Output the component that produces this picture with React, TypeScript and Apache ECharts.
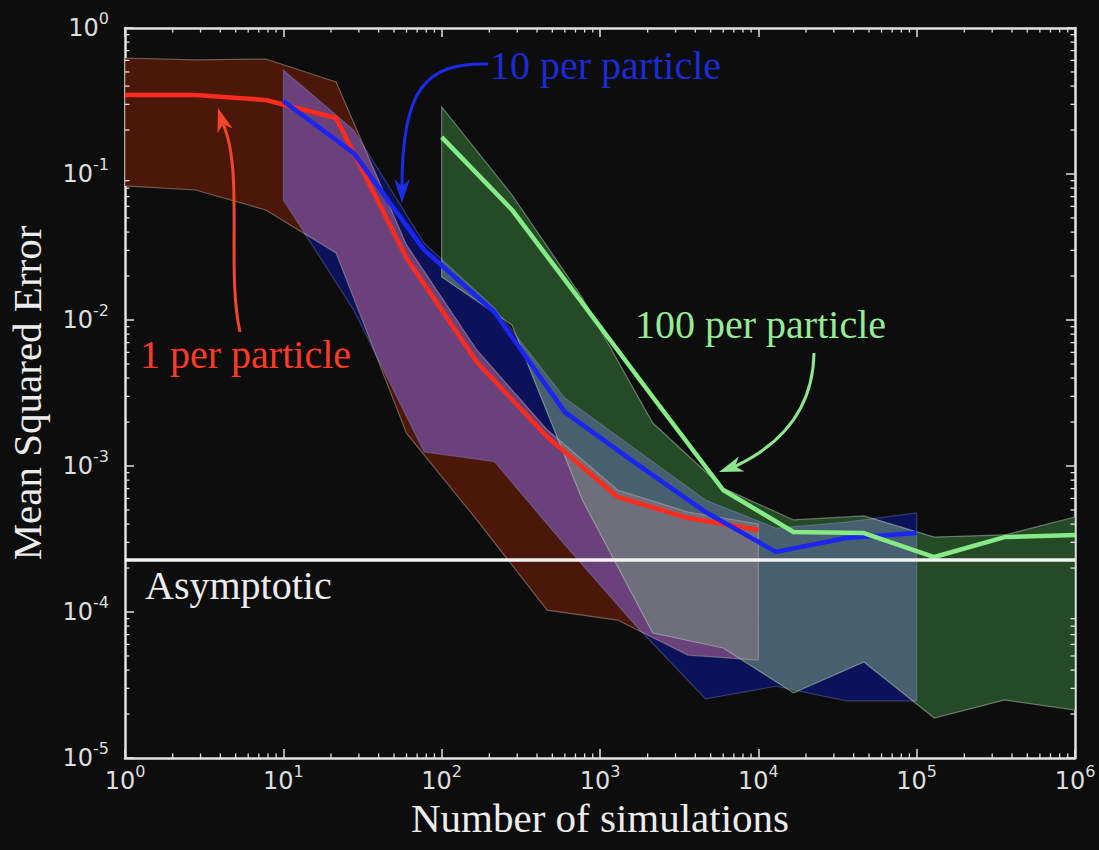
import React, { useEffect, useRef } from "react";
import * as echarts from "echarts";

// Number of simulations at which each estimator was evaluated
const simsOnePer = [1, 2.783, 7.743, 21.54, 59.95, 166.8, 464.2, 1292, 3594, 10000];
const simsTenPer = [10, 27.83, 77.43, 215.4, 599.5, 1668, 4642, 12915, 35938, 100000];
const simsHundredPer = [100, 278.3, 774.3, 2154, 5995, 16681, 46416, 129155, 359381, 1000000];

// 1 per particle: mean squared error and its spread
const mseOnePer = [0.348, 0.348, 0.321, 0.242, 0.0266, 5.16e-3, 1.58e-3, 6.14e-4, 4.4e-4, 3.64e-4];
const lowOnePer = [0.0828, 0.0777, 0.0567, 0.0288, 1.68e-3, 4.27e-4, 1.03e-4, 8.81e-5, 5.07e-5, 4.69e-5];
const highOnePer = [0.623, 0.604, 0.613, 0.427, 0.0327, 6.23e-3, 1.77e-3, 6.85e-4, 4.84e-4, 4.01e-4];

// 10 per particle
const mseTenPer = [0.316, 0.139, 0.0302, 0.01134, 2.34e-3, 1.05e-3, 4.84e-4, 2.58e-4, 3.21e-4, 3.47e-4];
const lowTenPer = [0.0664, 0.0117, 1.25e-3, 1.07e-3, 2.88e-4, 8.15e-5, 2.54e-5, 3.1e-5, 2.46e-5, 2.46e-5];
const highTenPer = [0.515, 0.2, 0.0337, 0.0121, 2.92e-3, 1.31e-3, 5.85e-4, 3.76e-4, 4.13e-4, 4.77e-4];

// 100 per particle
const mseHundredPer = [0.179, 0.0567, 0.01307, 2.97e-3, 6.85e-4, 3.53e-4, 3.47e-4, 2.38e-4, 3.26e-4, 3.37e-4];
const lowHundredPer = [0.0197, 9.24e-3, 5.85e-4, 7.18e-5, 5.67e-5, 2.79e-5, 4.55e-5, 1.88e-5, 2.5e-5, 2.13e-5];
const highHundredPer = [0.288, 0.0718, 0.01415, 1.97e-3, 7.07e-4, 4.27e-4, 4.55e-4, 3.26e-4, 3.37e-4, 4.48e-4];

const asymptoticMSE = 2.27e-4;

// Decade exponents covered by each axis
const xDecades = [0, 1, 2, 3, 4, 5, 6];
const yDecades = [-5, -4, -3, -2, -1, 0];

const BG = "#0d0d0d";
const AXIS = "#e2e2e2";
const LABEL = "#dedede";
const SERIF = '"Liberation Serif", "Times New Roman", serif';
const SANS = '"DejaVu Sans", sans-serif';

const RED = "#ff2b1c";
const BLUE = "#1b25f2";
const GREEN = "#86ea86";

type Band = { xs: number[]; lo: number[]; hi: number[] };
const log10 = (a: number[]) => a.map((v) => Math.log10(v));
const makeBand = (xs: number[], lo: number[], hi: number[]): Band => ({
  xs: log10(xs),
  lo: log10(lo),
  hi: log10(hi),
});

const interp = (xs: number[], ys: number[], x: number) => {
  if (x <= xs[0]) return ys[0];
  for (let i = 1; i < xs.length; i++) {
    if (x <= xs[i]) {
      const t = (x - xs[i - 1]) / (xs[i] - xs[i - 1]);
      return ys[i - 1] + t * (ys[i] - ys[i - 1]);
    }
  }
  return ys[ys.length - 1];
};

// Region shared by all given bands (piecewise linear in log-log space),
// returned as a closed outline of [sims, mse] vertices.
const sharedRegion = (bands: Band[]): number[][] => {
  const x0 = Math.max(...bands.map((b) => b.xs[0]));
  const x1 = Math.min(...bands.map((b) => b.xs[b.xs.length - 1]));
  if (x1 - x0 < 1e-9) return [];
  let knots = [x0, x1];
  bands.forEach((b) => b.xs.forEach((x) => { if (x > x0 && x < x1) knots.push(x); }));
  knots.sort((a, b) => a - b);
  knots = knots.filter((x, i) => i === 0 || x - knots[i - 1] > 1e-9);
  const fns: ((x: number) => number)[] = [];
  bands.forEach((b) => {
    fns.push((x) => interp(b.xs, b.lo, x));
    fns.push((x) => interp(b.xs, b.hi, x));
  });
  const crossings: number[] = [];
  for (let k = 1; k < knots.length; k++) {
    const a = knots[k - 1];
    const c = knots[k];
    for (let i = 0; i < fns.length; i++) {
      for (let j = i + 1; j < fns.length; j++) {
        const da = fns[i](a) - fns[j](a);
        const dc = fns[i](c) - fns[j](c);
        if (da * dc < 0) crossings.push(a + ((c - a) * da) / (da - dc));
      }
    }
  }
  const all = [...knots, ...crossings].sort((a, b) => a - b);
  const top: number[][] = [];
  const bottom: number[][] = [];
  all.forEach((x) => {
    const lo = Math.max(...bands.map((b) => interp(b.xs, b.lo, x)));
    const hi = Math.max(lo, Math.min(...bands.map((b) => interp(b.xs, b.hi, x))));
    top.push([Math.pow(10, x), Math.pow(10, hi)]);
    bottom.push([Math.pow(10, x), Math.pow(10, lo)]);
  });
  return [...top, ...bottom.reverse()];
};

const polygonRenderer = (style: any) => (params: any, api: any) => {
  if (params.dataIndexInside !== 0) return null;
  const points: number[][] = [];
  for (let i = 0; i < params.dataInsideLength; i++) {
    points.push(api.coord([api.value(0, i), api.value(1, i)]));
  }
  return { type: "polygon", shape: { points }, style, silent: true };
};

const tickRenderer = (params: any, api: any) => {
  if (params.dataIndexInside !== 0) return null;
  const cs = params.coordSys;
  const left = cs.x;
  const right = cs.x + cs.width;
  const top = cs.y;
  const bottom = cs.y + cs.height;
  const style = { stroke: AXIS, lineWidth: 1.3 };
  const len = 4.5;
  const children: any[] = [];
  xDecades.slice(0, -1).forEach((d) => {
    for (let m = 2; m <= 9; m++) {
      const px = api.coord([m * Math.pow(10, d), 1])[0];
      children.push({ type: "line", shape: { x1: px, y1: bottom, x2: px, y2: bottom - len }, style });
      children.push({ type: "line", shape: { x1: px, y1: top, x2: px, y2: top + len }, style });
    }
  });
  yDecades.slice(0, -1).forEach((d) => {
    for (let m = 2; m <= 9; m++) {
      const py = api.coord([1, m * Math.pow(10, d)])[1];
      children.push({ type: "line", shape: { x1: left, y1: py, x2: left + len, y2: py }, style });
      children.push({ type: "line", shape: { x1: right, y1: py, x2: right - len, y2: py }, style });
    }
  });
  return { type: "group", children, silent: true };
};

// Curved annotation arrow: cubic Bezier shaft plus a notched head
const arrow = (
  color: string,
  p0: number[],
  c1: number[],
  c2: number[],
  tip: number[],
  dir: number[]
) => {
  const n = Math.hypot(dir[0], dir[1]);
  const dx = dir[0] / n;
  const dy = dir[1] / n;
  const L = 24;
  const W = 8;
  const notch = 7;
  const end = [tip[0] - dx * (L - notch), tip[1] - dy * (L - notch)];
  return [
    {
      type: "bezierCurve",
      shape: {
        x1: p0[0], y1: p0[1], cpx1: c1[0], cpy1: c1[1], cpx2: c2[0], cpy2: c2[1], x2: end[0], y2: end[1],
      },
      style: { stroke: color, lineWidth: 3, fill: "none" },
      z: 100,
      silent: true,
    },
    {
      type: "polygon",
      shape: {
        points: [
          tip,
          [tip[0] - dx * L - dy * W, tip[1] - dy * L + dx * W],
          end,
          [tip[0] - dx * L + dy * W, tip[1] - dy * L - dx * W],
        ],
      },
      style: { fill: color },
      z: 100,
      silent: true,
    },
  ];
};

const label = (text: string, x: number, baseline: number, color: string) => ({
  type: "text",
  x,
  y: baseline - 13.5,
  z: 100,
  silent: true,
  style: {
    text,
    fill: color,
    font: `40px ${SERIF}`,
    align: "left",
    verticalAlign: "middle",
  },
});

const tickLabel = (v: number) => `{b|10}{s|${Math.round(Math.log10(v))}}`;
const tickRich = {
  b: { fontFamily: SANS, fontSize: 24, color: LABEL, padding: [6, 0, 0, 0], verticalAlign: "bottom" },
  s: { fontFamily: SANS, fontSize: 16, color: LABEL, verticalAlign: "top" },
};

export default function App() {
  const ref = useRef<HTMLDivElement>(null);

  useEffect(() => {
    if (!ref.current) return;
    const chart = echarts.init(ref.current, undefined, { renderer: "svg" });

    const red = makeBand(simsOnePer, lowOnePer, highOnePer);
    const blue = makeBand(simsTenPer, lowTenPer, highTenPer);
    const green = makeBand(simsHundredPer, lowHundredPer, highHundredPer);

    const regions: { name: string; bands: Band[]; fill: string }[] = [
      { name: "1 per particle band", bands: [red], fill: "#4b1709" },
      { name: "10 per particle band", bands: [blue], fill: "#0b1259" },
      { name: "100 per particle band", bands: [green], fill: "#244a26" },
      { name: "1 & 10 overlap", bands: [red, blue], fill: "#6a417a" },
      { name: "10 & 100 overlap", bands: [blue, green], fill: "#46606f" },
      { name: "1 & 100 overlap", bands: [red, green], fill: "#6f6f7c" },
    ];
    const outlines = [
      { bands: [red], stroke: "rgba(200,185,175,0.45)" },
      { bands: [blue], stroke: "rgba(160,170,225,0.3)" },
      { bands: [green], stroke: "rgba(205,220,205,0.45)" },
    ];

    const fillSeries = regions.map((r) => ({
      type: "custom",
      name: r.name,
      renderItem: polygonRenderer({ fill: r.fill }),
      data: sharedRegion(r.bands),
      clip: false,
      z: 1,
      silent: true,
    }));
    const outlineSeries = outlines.map((o) => ({
      type: "custom",
      renderItem: polygonRenderer({ fill: "none", stroke: o.stroke, lineWidth: 1.2 }),
      data: sharedRegion(o.bands),
      clip: false,
      z: 2,
      silent: true,
    }));
    const lineSeries = [
      { name: "1 per particle", xs: simsOnePer, ys: mseOnePer, color: RED },
      { name: "10 per particle", xs: simsTenPer, ys: mseTenPer, color: BLUE },
      { name: "100 per particle", xs: simsHundredPer, ys: mseHundredPer, color: GREEN },
    ].map((s) => ({
      type: "line",
      name: s.name,
      data: s.xs.map((x, i) => [x, s.ys[i]]),
      showSymbol: false,
      lineStyle: { color: s.color, width: 4.5, join: "round" },
      itemStyle: { color: s.color },
      z: 3,
      silent: true,
    }));

    const baseAxis = {
      type: "log",
      logBase: 10,
      splitLine: { show: false },
      axisLine: { show: true, lineStyle: { color: AXIS, width: 2.5 } },
      axisTick: { show: true, inside: true, length: 9, lineStyle: { color: AXIS, width: 1.5 } },
    };

    chart.setOption({
      animation: false,
      backgroundColor: BG,
      grid: { left: 125, right: 24, top: 28, bottom: 92, containLabel: false, outerBoundsMode: "none" },
      xAxis: [
        {
          ...baseAxis,
          min: 1,
          max: 1e6,
          position: "bottom",
          name: "Number of simulations",
          nameLocation: "middle",
          nameGap: 37,
          nameTextStyle: { fontFamily: SERIF, fontSize: 41, color: "#ececec" },
          axisLabel: { show: true, margin: 5, formatter: tickLabel, rich: tickRich },
        },
        { ...baseAxis, min: 1, max: 1e6, position: "top", axisLabel: { show: false } },
      ],
      yAxis: [
        {
          ...baseAxis,
          min: 1e-5,
          max: 1,
          position: "left",
          name: "Mean Squared Error",
          nameLocation: "middle",
          nameRotate: 90,
          nameGap: 78,
          nameTextStyle: { fontFamily: SERIF, fontSize: 41, color: "#ececec" },
          axisLabel: { show: true, margin: 16, formatter: tickLabel, rich: tickRich, padding: [0, 0, 6, 0] },
        },
        { ...baseAxis, min: 1e-5, max: 1, position: "right", axisLabel: { show: false } },
      ],
      series: [
        ...fillSeries,
        ...outlineSeries,
        ...lineSeries,
        {
          type: "line",
          name: "Asymptotic",
          data: [[1, asymptoticMSE], [1e6, asymptoticMSE]],
          showSymbol: false,
          lineStyle: { color: "#f2f2f2", width: 3.5 },
          z: 4,
          silent: true,
        },
        {
          type: "custom",
          name: "minor ticks",
          renderItem: tickRenderer,
          data: [[1, 1]],
          clip: false,
          z: 5,
          silent: true,
        },
      ],
      graphic: [
        label("1 per particle", 140, 368, "#ff3a26"),
        label("10 per particle", 490, 79, "#1c2bd2"),
        label("100 per particle", 635, 338, "#96eb96"),
        label("Asymptotic", 145, 599, "#ececec"),
        ...arrow("#f5442c", [240, 332], [226, 270], [244, 170], [218, 108], [-5, -16]),
        ...arrow("#1c2be6", [488, 64], [425, 62], [402, 90], [402, 203], [0, 1]),
        ...arrow("#8fe48f", [814, 353], [813, 410], [780, 445], [719, 472], [-14, 5]),
      ],
    });

    return () => chart.dispose();
  }, []);

  return (
    <div
      ref={ref}
      style={{ position: "fixed", left: 0, top: 0, width: 1099, height: 850, background: BG }}
    />
  );
}
